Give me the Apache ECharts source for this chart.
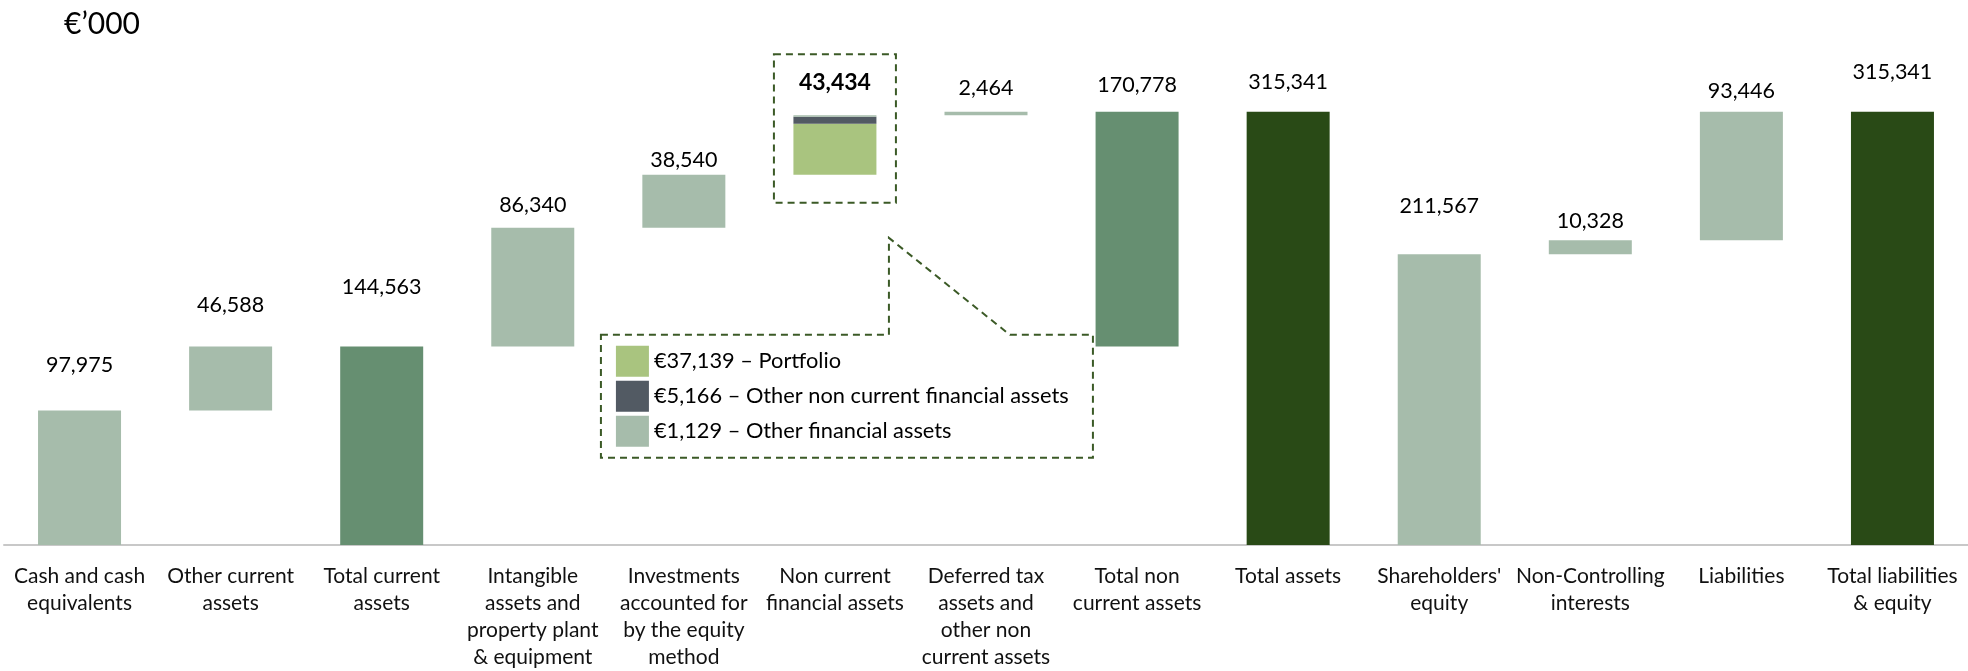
<!DOCTYPE html>
<html>
<head>
<meta charset="utf-8">
<script src="https://cdn.jsdelivr.net/npm/echarts@6/dist/echarts.min.js"></script>
<style>
  html, body { margin: 0; padding: 0; background: #fff; }
  #chart { width: 1968px; height: 671px; }
</style>
</head>
<body>
<div id="chart"></div>
<script>
const categories = [
  'Cash and cash\nequivalents',
  'Other current\nassets',
  'Total current\nassets',
  'Intangible\nassets and\nproperty plant\n& equipment',
  'Investments\naccounted for\nby the equity\nmethod',
  'Non current\nfinancial assets',
  'Deferred tax\nassets and\nother non\ncurrent assets',
  'Total non\ncurrent assets',
  'Total assets',
  "Shareholders'\nequity",
  'Non-Controlling\ninterests',
  'Liabilities',
  'Total liabilities\n& equity'
];
const amounts = [97975, 46588, 144563, 86340, 38540, 43434, 2464, 170778, 315341, 211567, 10328, 93446, 315341];
const bases = [0, 97975, 0, 144563, 230903, 269443, 312877, 144563, 0, 0, 211567, 221895, 0];
const kinds = ['step', 'step', 'subtotal', 'step', 'step', 'split', 'step', 'subtotal', 'total', 'step', 'step', 'step', 'total'];

// breakdown of the non current financial assets bar
const splitIndex = 5;
const splitNames = ['€37,139 – Portfolio', '€5,166 – Other non current financial assets', '€1,129 – Other financial assets'];
const splitValues = [37139, 5166, 1129];

// distance from bar top to label centre, px
const labelGaps = [45, 41, 59, 23, 15, 33, 24, 27, 30, 48, 19, 21, 40];

const kindColors = { step: '#a6bcab', subtotal: '#668f71', total: '#294a16' };
const splitColors = ['#a9c47f', '#525a63', '#a6bcab'];
const font = 'Lato';
const fmt = v => v.toLocaleString('en-US');

const chart = echarts.init(document.getElementById('chart'));

const series = [
  {
    name: 'base',
    type: 'bar',
    stack: 'w',
    silent: true,
    barWidth: 83,
    itemStyle: { color: 'transparent' },
    data: bases
  },
  {
    name: 'amount',
    type: 'bar',
    stack: 'w',
    barWidth: 83,
    itemStyle: { color: p => kindColors[kinds[p.dataIndex]] },
    label: {
      show: true,
      position: 'top',
      fontFamily: font,
      fontSize: 21.5,
      lineHeight: 26,
      color: '#000',
      formatter: p => fmt(p.value)
    },
    data: amounts.map((v, i) => i === splitIndex ? '-' : {
      value: v,
      label: { distance: labelGaps[i] - 13 }
    })
  }
];

splitNames.forEach((name, k) => {
  const last = k === splitNames.length - 1;
  series.push({
    name: name,
    type: 'bar',
    stack: 'w',
    barWidth: 83,
    color: splitColors[k],
    itemStyle: { color: splitColors[k] },
    label: {
      show: last,
      position: 'top',
      distance: labelGaps[splitIndex] - 13,
      fontFamily: font,
      fontSize: 23,
      fontWeight: 'bold',
      lineHeight: 26,
      color: '#000',
      formatter: () => fmt(amounts[splitIndex])
    },
    data: categories.map((c, i) => i === splitIndex ? splitValues[k] : '-')
  });
});

chart.setOption({
  animation: false,
  backgroundColor: '#fff',
  title: {
    text: '€’000',
    left: 64,
    top: 9,
    padding: 0,
    textStyle: { fontFamily: font, fontSize: 30, fontWeight: 'normal', color: '#000' }
  },
  grid: { left: 4, right: -4, top: 23, bottom: 125, containLabel: false },
  xAxis: {
    type: 'category',
    data: categories,
    axisLine: { lineStyle: { color: '#c8c8c8', width: 2 } },
    axisTick: { show: false },
    axisLabel: {
      interval: 0,
      margin: 18,
      fontFamily: font,
      fontSize: 21,
      lineHeight: 27,
      color: '#111'
    }
  },
  yAxis: {
    type: 'value',
    min: 0,
    max: 380000,
    show: false,
    splitLine: { show: false }
  },
  tooltip: { show: false },
  series: series
});

// annotations tied to the split bar
const barTop = chart.convertToPixel({ gridIndex: 0 }, [splitIndex, bases[splitIndex] + amounts[splitIndex]]);
const barBot = chart.convertToPixel({ gridIndex: 0 }, [splitIndex, bases[splitIndex]]);
const cx = barTop[0];
const boxTop = barTop[1] - 61;
const boxBot = barBot[1] + 28;
const callTop = barBot[1] + 160;
const callBot = barBot[1] + 283;
const tipY = barBot[1] + 63;
const dash = { fill: 'none', stroke: '#3b5a26', lineWidth: 2, lineDash: [7, 5] };

chart.setOption({
  legend: {
    data: splitNames,
    orient: 'vertical',
    left: cx - 219,
    top: callTop + 11,
    padding: 0,
    itemWidth: 33,
    itemHeight: 31,
    itemGap: 4,
    icon: 'rect',
    selectedMode: false,
    textStyle: { fontFamily: font, fontSize: 21.8, color: '#000' }
  },
  graphic: [
    {
      type: 'rect',
      shape: { x: cx - 61, y: boxTop, width: 122, height: boxBot - boxTop },
      style: dash,
      silent: true
    },
    {
      type: 'polygon',
      shape: {
        points: [
          [cx - 234, callTop], [cx + 54, callTop], [cx + 54, tipY],
          [cx + 175, callTop], [cx + 258, callTop], [cx + 258, callBot],
          [cx - 234, callBot]
        ]
      },
      style: dash,
      silent: true
    }
  ]
});
</script>
</body>
</html>
